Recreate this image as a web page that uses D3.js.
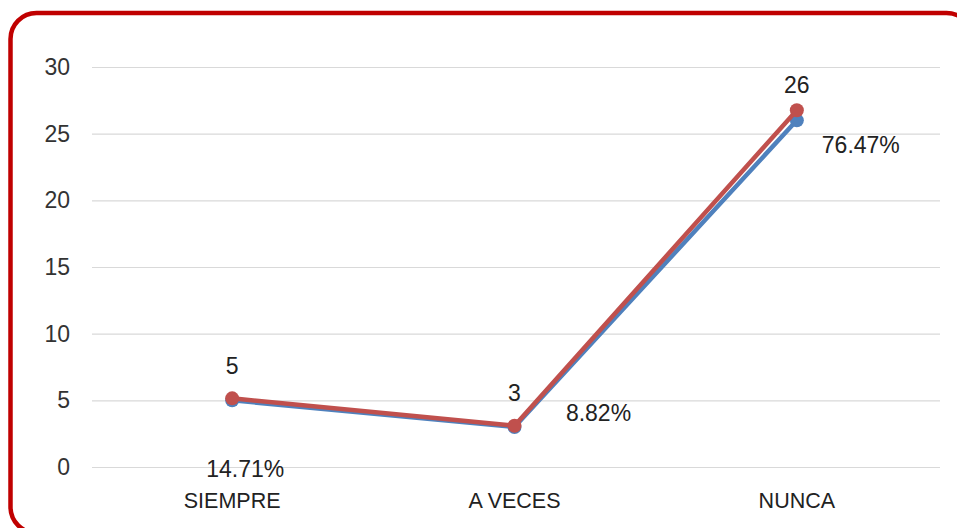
<!DOCTYPE html>
<html>
<head>
<meta charset="utf-8">
<script src="https://cdn.jsdelivr.net/npm/d3@7"></script>
<style>
  html, body { margin: 0; padding: 0; background: #fff; }
  svg { display: block; }
</style>
</head>
<body>
<svg id="chart" width="957" height="528"></svg>
<script>
// Answers per category
const categories = ["SIEMPRE", "A VECES", "NUNCA"];
const counts = [5, 3, 26];
// Second series: share of total scaled to the same axis
const shareSeries = [5.15, 3.09, 26.76];
const percentLabels = ["14.71%", "8.82%", "76.47%"];
const yTicks = [0, 5, 10, 15, 20, 25, 30];

// Label placement offsets (dx, dy) relative to each point
const countLabelOffset = [[0, -24], [0, -25], [0, -17]];
const percentLabelOffset = [[13, 77], [84, -6], [64, 33]];

const svg = d3.select("#chart");
const font = "'Liberation Sans', Arial, sans-serif";

// Frame
svg.append("rect")
  .attr("x", 10.5).attr("y", 13)
  .attr("width", 962).attr("height", 520)
  .attr("rx", 26).attr("ry", 26)
  .attr("fill", "#fff")
  .attr("stroke", "#c00000")
  .attr("stroke-width", 4.5);

const plot = { left: 92, right: 940, top: 67, bottom: 467 };

const x = d3.scaleBand().domain(categories).range([91, 938]);
const y = d3.scaleLinear().domain([0, 30]).range([plot.bottom, plot.top]);
const cx = c => x(c) + x.bandwidth() / 2;

// Gridlines + y labels
const yAxis = d3.axisLeft(y).tickValues(yTicks)
  .tickSize(-(plot.right - plot.left)).tickPadding(22);
const gy = svg.append("g").attr("transform", `translate(${plot.left},0)`).call(yAxis);
gy.select(".domain").remove();
gy.selectAll(".tick line").attr("stroke", "#d9d9d9").attr("stroke-width", 1.2);
gy.selectAll(".tick text")
  .attr("font-family", font).attr("font-size", 23).attr("fill", "#333");

// Category labels
const xAxis = d3.axisBottom(x).tickSize(0).tickPadding(26);
const gx = svg.append("g").attr("transform", `translate(0,${plot.bottom})`).call(xAxis);
gx.select(".domain").remove();
gx.selectAll(".tick text")
  .attr("font-family", font).attr("font-size", 21.5).attr("fill", "#222");

// Series
const line = d3.line().x((d, i) => cx(categories[i])).y(d => y(d));
const series = [
  { values: counts, color: "#4f81bd" },
  { values: shareSeries, color: "#c0504d" }
];
series.forEach(s => {
  svg.append("path")
    .datum(s.values)
    .attr("d", line)
    .attr("fill", "none")
    .attr("stroke", s.color)
    .attr("stroke-width", 4.5)
    .attr("stroke-linejoin", "round");
  svg.selectAll(null).data(s.values).enter().append("circle")
    .attr("cx", (d, i) => cx(categories[i]))
    .attr("cy", d => y(d))
    .attr("r", 7)
    .attr("fill", s.color);
});

// Count labels
svg.selectAll(null).data(counts).enter().append("text")
  .attr("x", (d, i) => cx(categories[i]) + countLabelOffset[i][0])
  .attr("y", (d, i) => y(shareSeries[i]) + countLabelOffset[i][1])
  .attr("text-anchor", "middle")
  .attr("font-family", font).attr("font-size", 23).attr("fill", "#222")
  .text(d => d);

// Percentage labels
svg.selectAll(null).data(percentLabels).enter().append("text")
  .attr("x", (d, i) => cx(categories[i]) + percentLabelOffset[i][0])
  .attr("y", (d, i) => y(counts[i]) + percentLabelOffset[i][1])
  .attr("text-anchor", "middle")
  .attr("font-family", font).attr("font-size", 23).attr("fill", "#222")
  .text(d => d);
</script>
</body>
</html>
